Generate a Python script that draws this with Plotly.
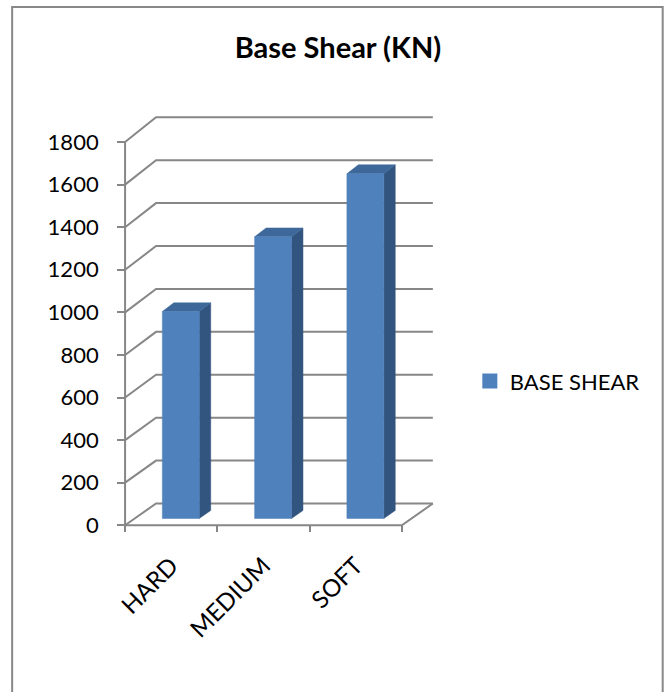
import plotly.graph_objects as go

# Data
categories = ["HARD", "MEDIUM", "SOFT"]
base_shear = [970, 1320, 1615]
series_name = "BASE SHEAR"
y_ticks = [0, 200, 400, 600, 800, 1000, 1200, 1400, 1600, 1800]

# Page geometry (pixels)
W, H = 665, 692
X0PX, XS = 125.0, 92.33      # x=0 pixel and pixels per category
Y0PX, YS = 525.0, 0.21275    # y=0 pixel and pixels per value unit
XR = [-0.25, 3.5]
YR = [-60, 1960]

ml = X0PX + XR[0] * XS
mr = W - (X0PX + XR[1] * XS)
mt = Y0PX - YR[1] * YS
mb = H - (Y0PX - YR[0] * YS)
pw = W - ml - mr
ph = H - mt - mb

# Oblique depth projection: d=0 front plane, d=1 back wall
DXU, DYU, K = 0.3357, 102.0, 0.008


def proj(x, v, d):
    return x + DXU * d, v * (1 + K * d) + DYU * d


GRID = "#878787"
FRONT = "#4F81BD"
TOP = "#3D6899"
SIDE = "#32557F"

fig = go.Figure()

# Walls and gridlines
gx, gy = [], []
for v in y_ticks:
    a = proj(0, v, 0)
    b = proj(0, v, 1)
    c = proj(len(categories), v, 1)
    gx += [a[0], b[0], c[0], None]
    gy += [a[1], b[1], c[1], None]
# floor front edge and right edge
f0 = proj(0, 0, 0)
f1 = proj(len(categories), 0, 0)
f2 = proj(len(categories), 0, 1)
gx += [f0[0], f1[0], f2[0], None]
gy += [f0[1], f1[1], f2[1], None]
# front value axis line
t0 = proj(0, y_ticks[-1], 0)
gx += [f0[0], t0[0]]
gy += [f0[1], t0[1]]
fig.add_trace(go.Scatter(x=gx, y=gy, mode="lines", line=dict(color=GRID, width=2),
                         hoverinfo="skip", showlegend=False))

# 3D columns
BW0, BW1 = 0.30, 0.70   # column span within category
D0, D1 = 0.31, 0.68     # column depth span
fx, fy, sx, sy, tx, ty = [], [], [], [], [], []
for i, v in enumerate(base_shear):
    xl, xr = i + BW0, i + BW1
    p = [proj(xl, 0, D0), proj(xr, 0, D0), proj(xr, v, D0), proj(xl, v, D0)]
    fx += [q[0] for q in p] + [p[0][0], None]
    fy += [q[1] for q in p] + [p[0][1], None]
    s = [proj(xr, 0, D0), proj(xr, 0, D1), proj(xr, v, D1), proj(xr, v, D0)]
    sx += [q[0] for q in s] + [s[0][0], None]
    sy += [q[1] for q in s] + [s[0][1], None]
    t = [proj(xl, v, D0), proj(xr, v, D0), proj(xr, v, D1), proj(xl, v, D1)]
    tx += [q[0] for q in t] + [t[0][0], None]
    ty += [q[1] for q in t] + [t[0][1], None]

fig.add_trace(go.Scatter(x=sx, y=sy, fill="toself", fillcolor=SIDE, mode="lines",
                         line=dict(color=SIDE, width=0.5), hoverinfo="skip", showlegend=False))
fig.add_trace(go.Scatter(x=tx, y=ty, fill="toself", fillcolor=TOP, mode="lines",
                         line=dict(color=TOP, width=0.5), hoverinfo="skip", showlegend=False))
fig.add_trace(go.Scatter(x=fx, y=fy, fill="toself", fillcolor=FRONT, mode="lines",
                         line=dict(color=FRONT, width=0.5), hoverinfo="skip", showlegend=False,
                         xaxis="x2"))

# legend entry
fig.add_trace(go.Scatter(x=[None], y=[None], mode="markers", name=series_name,
                         marker=dict(symbol="square", size=15, color=FRONT)))

FONT = "Lato"
y_axis_pos = (X0PX - ml) / pw
x_axis_pos = ((H - mb) - Y0PX) / ph

fig.update_layout(
    width=W, height=H,
    margin=dict(l=ml, r=mr, t=mt, b=mb, pad=0),
    paper_bgcolor="white", plot_bgcolor="rgba(0,0,0,0)",
    font=dict(family=FONT, size=22, color="black"),
    title=dict(text="<b>Base Shear (KN)</b>", x=338 / W, xref="container", xanchor="center",
               y=1 - 48 / H, yref="container", yanchor="middle",
               font=dict(family=FONT, size=29, color="black")),
    xaxis=dict(range=XR, anchor="free", position=x_axis_pos, tickvals=[0, 1, 2, 3],
               ticks="outside", ticklen=6, tickwidth=2, tickcolor=GRID,
               showticklabels=False, showgrid=False, zeroline=False, showline=False,
               automargin=False, fixedrange=True),
    xaxis2=dict(range=XR, overlaying="x", anchor="free", position=x_axis_pos,
                tickvals=[i + 0.5 for i in range(len(categories))], ticktext=categories,
                tickangle=-45, ticks="outside", ticklen=16, tickcolor="rgba(0,0,0,0)",
                tickfont=dict(family=FONT, size=24, color="black"),
                showgrid=False, zeroline=False, showline=False, automargin=False,
                fixedrange=True, side="bottom"),
    yaxis=dict(range=YR, anchor="free", position=y_axis_pos, tickvals=y_ticks,
               ticks="outside", ticklen=8, tickwidth=2, tickcolor=GRID,
               ticklabelstandoff=14, tickfont=dict(family=FONT, size=22, color="black"),
               showgrid=False, zeroline=False, showline=False, automargin=False,
               fixedrange=True),
    legend=dict(x=(470 - ml) / pw, xanchor="left", y=1 - (381 - mt) / ph, yanchor="middle",
                font=dict(family=FONT, size=22, color="black"), bgcolor="rgba(0,0,0,0)",
                borderwidth=0),
    shapes=[dict(type="rect", xref="paper", yref="paper",
                 x0=(12 - ml) / pw, x1=(663 - ml) / pw,
                 y0=1 - (720 - mt) / ph, y1=1 - (7 - mt) / ph,
                 line=dict(color="#888888", width=2), fillcolor="rgba(0,0,0,0)", layer="below")],
)

fig.write_html("out.html")
